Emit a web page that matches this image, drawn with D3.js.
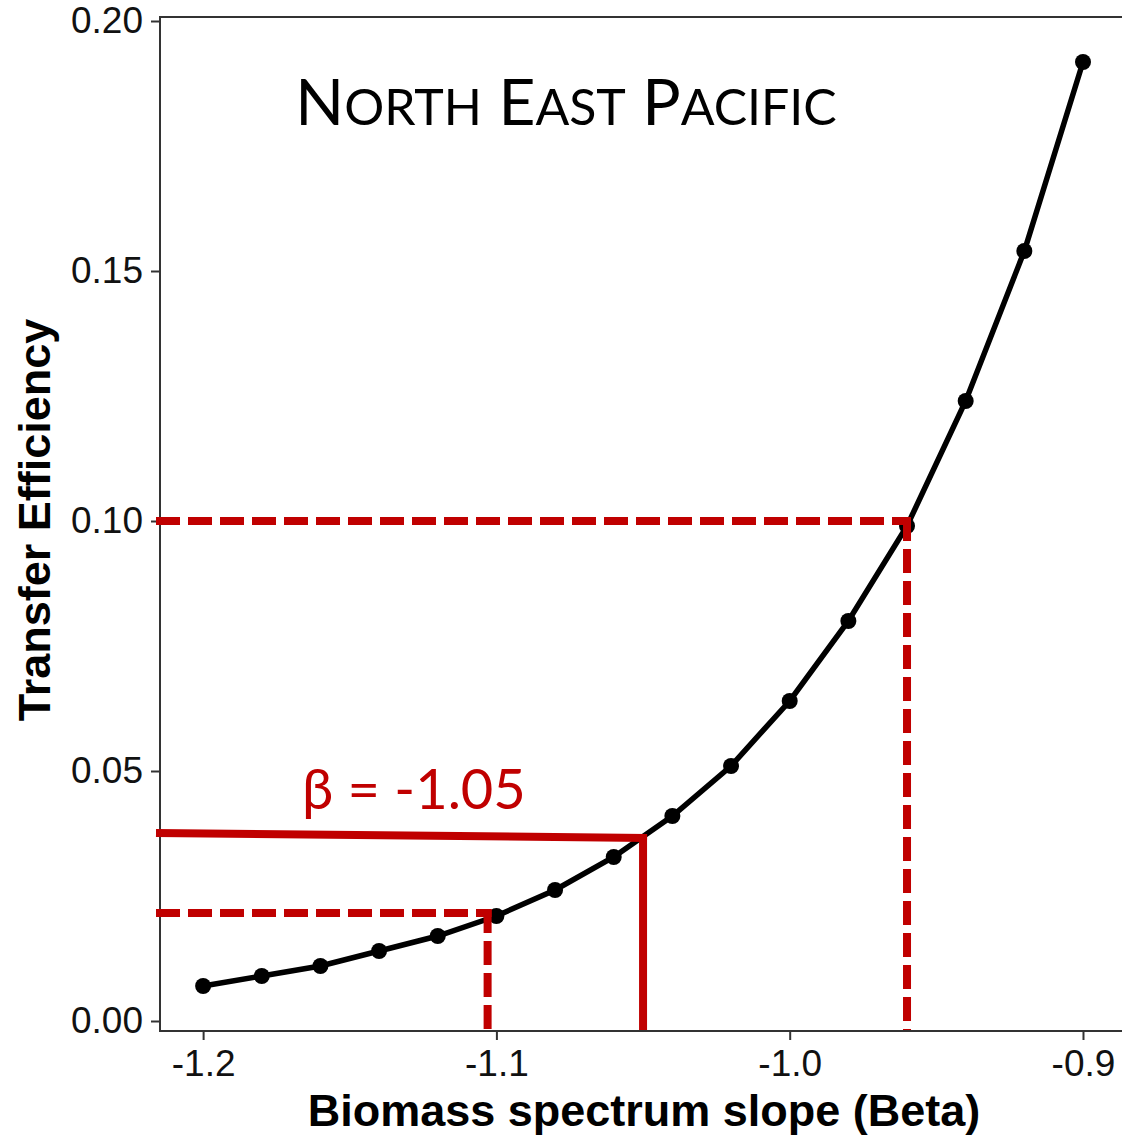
<!DOCTYPE html>
<html>
<head>
<meta charset="utf-8">
<script src="https://cdn.jsdelivr.net/npm/d3@7"></script>
<style>
  body { margin: 0; background: #fff; }
  svg { display: block; }
</style>
</head>
<body>
<svg width="1122" height="1140"></svg>
<script>
// curve: transfer efficiency vs biomass spectrum slope
const beta = [-1.20, -1.18, -1.16, -1.14, -1.12, -1.10, -1.08, -1.06,
              -1.04, -1.02, -1.00, -0.98, -0.96, -0.94, -0.92, -0.90];
const te = [0.007, 0.009, 0.011, 0.014, 0.017, 0.021, 0.0262, 0.0328,
            0.041, 0.051, 0.064, 0.080, 0.099, 0.124, 0.154, 0.1918];

const xTicks = [-1.2, -1.1, -1.0, -0.9];
const xTickLabels = ['-1.2', '-1.1', '-1.0', '-0.9'];
const yTicks = [0.00, 0.05, 0.10, 0.15, 0.20];
const yTickLabels = ['0.00', '0.05', '0.10', '0.15', '0.20'];

// red guide lines: slope where they drop, TE at axis end and at curve end
const guideBeta = [-0.96, -1.103, -1.05];
const guideTeStart = [0.100, 0.0216, 0.0376];
const guideTeEnd = [0.100, 0.0216, 0.0366];
const guideDashed = [true, true, false];

const title = [['N', 'ORTH'], ['E', 'AST'], ['P', 'ACIFIC']];
const betaLabel = 'β = -1.05';

let svg = d3.select('svg');

let pLeft = 160, pRight = 1124, pTop = 17, pBottom = 1031;

let x = d3.scaleLinear()
    .domain([-1.2147, -0.8867])
    .range([pLeft, 1122]);

let y = d3.scaleLinear()
    .domain([-0.002, 0.2008])
    .range([pBottom, pTop]);

// panel frame (right side falls outside the picture)
svg.append('rect')
    .attr('x', pLeft).attr('y', pTop)
    .attr('width', pRight - pLeft + 10).attr('height', pBottom - pTop)
    .attr('fill', 'none')
    .attr('stroke', '#333')
    .attr('stroke-width', 2);

let xAxis = svg.append('g')
    .attr('transform', `translate(0,${pBottom})`)
    .call(d3.axisBottom(x).tickValues(xTicks)
        .tickFormat((d, i) => xTickLabels[i])
        .tickSize(9).tickPadding(10));

let yAxis = svg.append('g')
    .attr('transform', `translate(${pLeft},0)`)
    .call(d3.axisLeft(y).tickValues(yTicks)
        .tickFormat((d, i) => yTickLabels[i])
        .tickSize(9).tickPadding(8));

xAxis.select('.domain').remove();
yAxis.select('.domain').remove();
[xAxis, yAxis].forEach(g => {
    g.selectAll('line').attr('stroke', '#333').attr('stroke-width', 2);
    g.selectAll('text')
        .attr('fill', '#111')
        .attr('font-family', 'Liberation Sans, Arial, sans-serif')
        .attr('font-size', 37);
});

// curve
let pts = beta.map((b, i) => [b, te[i]]);

svg.append('path')
    .datum(pts)
    .attr('fill', 'none')
    .attr('stroke', '#000')
    .attr('stroke-width', 5.5)
    .attr('d', d3.line().x(d => x(d[0])).y(d => y(d[1])));

svg.append('g').selectAll('circle')
    .data(pts)
    .enter().append('circle')
    .attr('cx', d => x(d[0]))
    .attr('cy', d => y(d[1]))
    .attr('r', 8)
    .attr('fill', '#000');

// guides
let red = '#c00000';
let gGuide = svg.append('g');
guideBeta.forEach((b, i) => {
    let dash = guideDashed[i] ? '24,8' : null;
    gGuide.append('line')
        .attr('x1', pLeft - 4).attr('y1', y(guideTeStart[i]))
        .attr('x2', x(b) + 4).attr('y2', y(guideTeEnd[i]))
        .attr('stroke', red).attr('stroke-width', 8)
        .attr('stroke-dasharray', dash);
    gGuide.append('line')
        .attr('x1', x(b)).attr('y1', y(guideTeEnd[i]) - 4)
        .attr('x2', x(b)).attr('y2', pBottom - 1)
        .attr('stroke', red).attr('stroke-width', 8)
        .attr('stroke-dasharray', dash);
});

// title in small caps
let t = svg.append('text')
    .attr('x', 566).attr('y', 125)
    .attr('text-anchor', 'middle')
    .attr('font-family', 'Lato, Carlito, sans-serif')
    .attr('fill', '#000');
title.forEach((w, i) => {
    t.append('tspan').attr('font-size', 64).text((i ? ' ' : '') + w[0]);
    t.append('tspan').attr('font-size', 50).text(w[1]);
});

svg.append('text')
    .attr('x', 302).attr('y', 809)
    .attr('font-family', 'Lato, Carlito, sans-serif')
    .attr('font-size', 56)
    .attr('fill', red)
    .text(betaLabel);

// axis titles
svg.append('text')
    .attr('x', 644).attr('y', 1126)
    .attr('text-anchor', 'middle')
    .attr('font-family', 'Liberation Sans, Arial, sans-serif')
    .attr('font-weight', 'bold')
    .attr('font-size', 45)
    .attr('fill', '#000')
    .text('Biomass spectrum slope (Beta)');

svg.append('text')
    .attr('transform', 'translate(50,520) rotate(-90)')
    .attr('text-anchor', 'middle')
    .attr('font-family', 'Liberation Sans, Arial, sans-serif')
    .attr('font-weight', 'bold')
    .attr('font-size', 45)
    .attr('fill', '#000')
    .text('Transfer Efficiency');
</script>
</body>
</html>
